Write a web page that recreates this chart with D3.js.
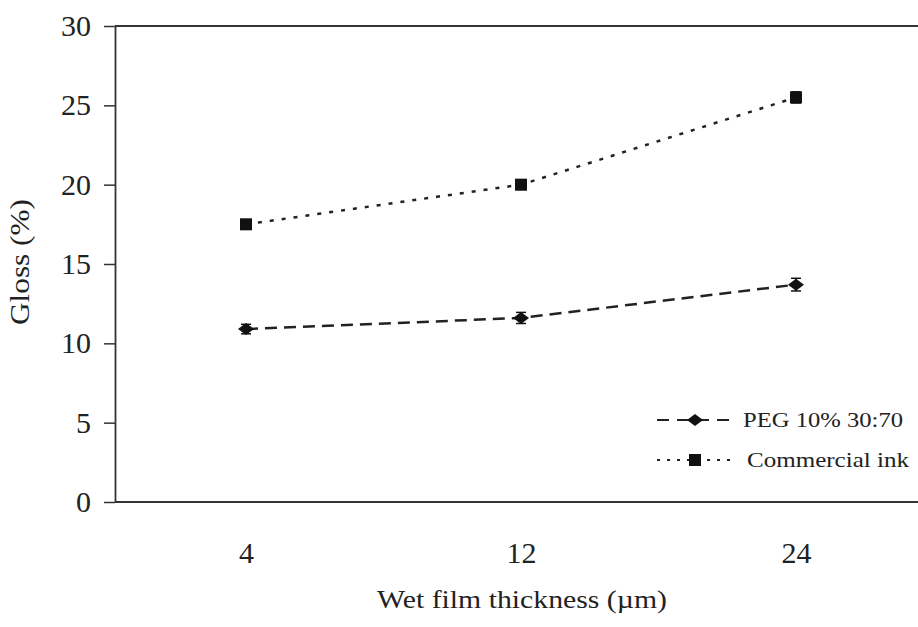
<!DOCTYPE html>
<html>
<head>
<meta charset="utf-8">
<script src="https://cdn.jsdelivr.net/npm/d3@7"></script>
<style>
    body { margin: 0; background: #fff; }
    text { font-family: "Liberation Serif", "Times New Roman", serif; fill: #222; }
</style>
</head>
<body>
<svg id="chart" width="918" height="627"></svg>
<script>
// Data
const thickness = ["4", "12", "24"];
const pegGloss = [10.9, 11.6, 13.7];
const pegError = [0.3, 0.35, 0.4];
const inkGloss = [17.5, 20.0, 25.5];
const inkError = [0.3, 0.3, 0.35];
const yTicks = [0, 5, 10, 15, 20, 25, 30];

const serif = "'Liberation Serif', 'Times New Roman', serif";

const series = [
    {name: "PEG 10% 30:70", values: pegGloss, errors: pegError, dash: "12,7", marker: "diamond"},
    {name: "Commercial ink", values: inkGloss, errors: inkError, dash: "4,8", marker: "square"}
];

let svg = d3.select("#chart");
let margin = {top: 26, right: 0, bottom: 125, left: 115};
let width = +svg.attr("width") - margin.left - margin.right;
let height = +svg.attr("height") - margin.top - margin.bottom;

let scale = {
    x: d3.scalePoint().domain(thickness).range([131, 681]),
    y: d3.scaleLinear().domain([0, 30]).range([height, 0])
};

let group = svg.append("g")
    .attr("transform", `translate(${margin.left}, ${margin.top})`);

// top frame line
group.append("line")
    .attr("x1", 0).attr("x2", width).attr("y1", 0).attr("y2", 0)
    .attr("stroke", "#333").attr("stroke-width", 1.8);

// x axis: baseline only, labels below
let xAxis = group.append("g")
    .attr("transform", `translate(0, ${height})`)
    .call(d3.axisBottom(scale.x).tickSize(0).tickPadding(40));
xAxis.select(".domain").remove();
xAxis.append("line")
    .attr("x1", 0).attr("x2", width)
    .attr("stroke", "#333").attr("stroke-width", 1.8);
xAxis.selectAll(".tick text")
    .style("font-size", "30px")
    .style("font-family", serif)
    .attr("fill", "#222");

// y axis
let yAxis = group.append("g")
    .call(d3.axisLeft(scale.y).tickValues(yTicks).tickSize(11).tickSizeOuter(0).tickPadding(13));
yAxis.select(".domain").attr("stroke", "#333").attr("stroke-width", 1.8);
yAxis.selectAll(".tick line").attr("stroke", "#333").attr("stroke-width", 1.5);
yAxis.selectAll(".tick text")
    .style("font-size", "30px")
    .style("font-family", serif)
    .attr("fill", "#222");

// axis titles
svg.append("text")
    .attr("transform", `translate(29, 325) rotate(-90)`)
    .attr("textLength", 126)
    .attr("lengthAdjust", "spacingAndGlyphs")
    .style("font-size", "27px")
    .text("Gloss (%)");

svg.append("text")
    .attr("x", 377)
    .attr("y", 608)
    .attr("textLength", 290)
    .attr("lengthAdjust", "spacingAndGlyphs")
    .style("font-size", "26px")
    .text("Wet film thickness (\u00b5m)");

let line = d3.line()
    .x((d, i) => scale.x(thickness[i]))
    .y(d => scale.y(d));

let drawMarker = (sel, type, cx, cy) => {
    if (type === "diamond") {
        sel.append("path")
            .attr("d", `M${cx - 8},${cy} L${cx},${cy - 6} L${cx + 8},${cy} L${cx},${cy + 6} Z`)
            .attr("fill", "#111");
    } else {
        sel.append("rect")
            .attr("x", cx - 6).attr("y", cy - 6)
            .attr("width", 12).attr("height", 12)
            .attr("fill", "#111");
    }
};

series.forEach(s => {
    group.append("path")
        .datum(s.values)
        .attr("d", line)
        .attr("fill", "none")
        .attr("stroke", "#222")
        .attr("stroke-width", 2.5)
        .attr("stroke-dasharray", s.dash);

    let pts = group.append("g");
    s.values.forEach((v, i) => {
        let cx = scale.x(thickness[i]);
        let lo = scale.y(v - s.errors[i]);
        let hi = scale.y(v + s.errors[i]);
        pts.append("line").attr("x1", cx).attr("x2", cx).attr("y1", lo).attr("y2", hi)
            .attr("stroke", "#111").attr("stroke-width", 1.5);
        pts.append("line").attr("x1", cx - 5).attr("x2", cx + 5).attr("y1", lo).attr("y2", lo)
            .attr("stroke", "#111").attr("stroke-width", 1.5);
        pts.append("line").attr("x1", cx - 5).attr("x2", cx + 5).attr("y1", hi).attr("y2", hi)
            .attr("stroke", "#111").attr("stroke-width", 1.5);
        drawMarker(pts, s.marker, cx, scale.y(v));
    });
});

// legend
let legendWidths = [160, 162];
let legend = svg.append("g").attr("transform", "translate(657, 420)");
series.forEach((s, i) => {
    let row = legend.append("g").attr("transform", `translate(0, ${i * 40})`);
    row.append("line")
        .attr("x1", 0).attr("x2", 80).attr("y1", 0).attr("y2", 0)
        .attr("stroke", "#222").attr("stroke-width", 2.2)
        .attr("stroke-dasharray", i === 0 ? "12,8" : "3,7");
    drawMarker(row, s.marker, 38, 0);
    row.append("text")
        .attr("x", i === 0 ? 86 : 90)
        .attr("y", 7)
        .attr("textLength", legendWidths[i])
        .attr("lengthAdjust", "spacingAndGlyphs")
        .style("font-size", "21px")
        .text(s.name);
});
</script>
</body>
</html>
